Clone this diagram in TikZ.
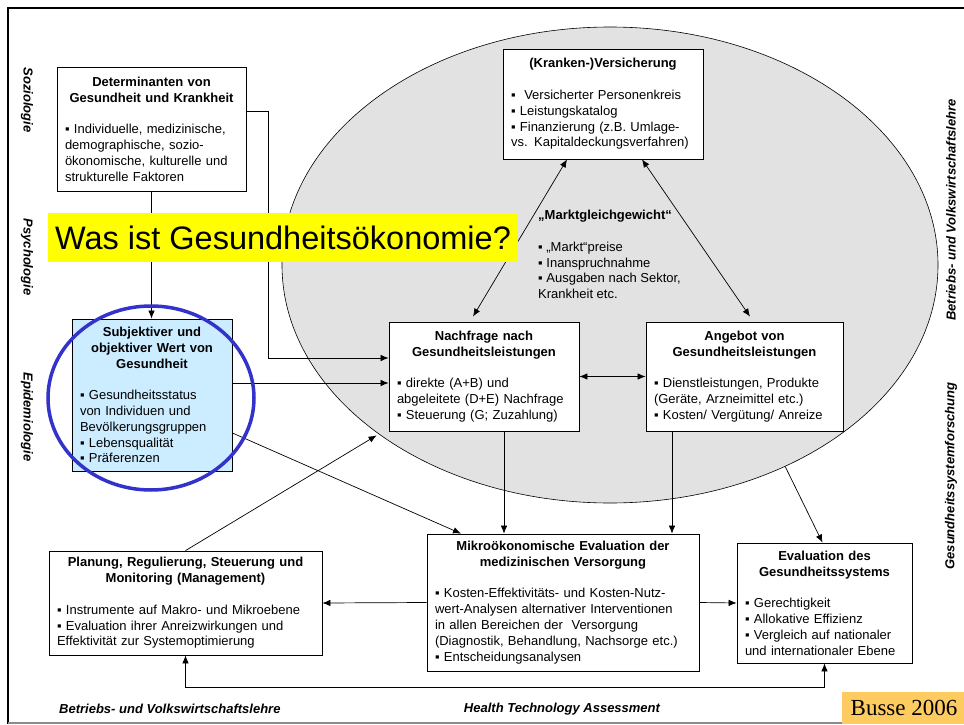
\documentclass[tikz,border=0pt]{standalone}
\usepackage{fontspec}
\setmainfont{Liberation Sans}
\newfontfamily\serifbusse{Liberation Serif}
\usepackage{tikz}
\usetikzlibrary{positioning,arrows.meta,calc,shapes.geometric}
\definecolor{cRing}{HTML}{3333CC}
\definecolor{cSky}{HTML}{CCECFF}
\definecolor{cBanner}{HTML}{FFFF00}
\definecolor{cBusse}{HTML}{FDCB60}
\definecolor{cMarkt}{HTML}{E2E2E2}
\setlength{\parindent}{0pt}
\newcommand{\hd}[1]{{\centering\bfseries #1\par}\vspace{15.8pt}}
\tikzset{
	box/.style={draw, fill=white, line width=0.8pt, inner xsep=8pt, inner ysep=0pt, align=left,
		font=\fontsize{13}{15.8}\selectfont},
	lbl/.style={font=\fontsize{13}{15}\selectfont\bfseries\itshape, inner sep=0pt},
	arr/.style={-{Latex[length=8pt,width=6.5pt]}, line width=0.7pt},
	darr/.style={{Latex[length=8pt,width=6.5pt]}-{Latex[length=8pt,width=6.5pt]}, line width=0.7pt},
}
\begin{document}
\begin{tikzpicture}[x=1pt,y=-1pt]
				\fill[white] (0,0) rectangle (964,725);
				\useasboundingbox (0,0) rectangle (964,725);
				\draw[line width=2.5pt] (966,8) -- (8,8) -- (8,724);
				\draw[black!45, line width=1.2pt] (8,723) -- (966,723);
				\node[ellipse, draw, fill=cMarkt, line width=0.6pt, minimum width=656pt, minimum height=476pt, inner sep=0pt] (markt) at (610,265) {};
				\node[box, minimum width=189pt, minimum height=124pt, text width=173pt] (det) at (151.5,129) {\hd{Determinanten von\\Gesundheit und Krankheit}▪ Individuelle, medizinische,\\demographische, sozio-\\ökonomische, kulturelle und\\strukturelle Faktoren};
				\node[box, fill=cSky, minimum width=160pt, minimum height=152pt, text width=144pt] (subj) at (152,395) {\hd{Subjektiver und\\objektiver Wert von\\Gesundheit}▪ Gesundheitsstatus\\von Individuen und\\Bevölkerungsgruppen\\▪ Lebensqualität\\▪ Präferenzen};
				\node[box, minimum width=200pt, minimum height=110pt, text width=184pt] (vers) at (603,104) {\hd{(Kranken-)Versicherung}▪ \ Versicherter Personenkreis\\▪ Leistungskatalog\\▪ Finanzierung (z.B. Umlage-\\vs. Kapitaldeckungsverfahren)};
				\node[align=left, anchor=north west, inner sep=0pt, font=\fontsize{13}{15.8}\selectfont] (gleich) at (538,210) {\textbf{„Marktgleichgewicht“}\\[15.8pt]▪ „Markt“preise\\▪ Inanspruchnahme\\▪ Ausgaben nach Sektor,\\Krankheit etc.};
				\node[box, minimum width=190pt, minimum height=109pt, text width=174pt] (nach) at (484,376.5) {\hd{Nachfrage nach\\Gesundheitsleistungen}▪ direkte (A+B) und\\abgeleitete (D+E) Nachfrage\\▪ Steuerung (G; Zuzahlung)};
				\node[box, minimum width=197pt, minimum height=109pt, text width=181pt] (ang) at (744.5,376.5) {\hd{Angebot von\\Gesundheitsleistungen}▪ Dienstleistungen, Produkte\\(Geräte, Arzneimittel etc.)\\▪ Kosten/ Vergütung/ Anreize};
				\node[box, minimum width=272pt, minimum height=137pt, text width=256pt] (mikro) at (563,602.5) {\hd{Mikroökonomische Evaluation der\\medizinischen Versorgung}▪ Kosten-Effektivitäts- und Kosten-Nutz-\\wert-Analysen alternativer Interventionen\\in allen Bereichen der \ Versorgung\\(Diagnostik, Behandlung, Nachsorge etc.)\\▪ Entscheidungsanalysen};
				\node[box, minimum width=175pt, minimum height=120pt, text width=159pt] (evsys) at (824.5,603) {\hd{Evaluation des\\Gesundheitssystems}▪ Gerechtigkeit\\▪ Allokative Effizienz\\▪ Vergleich auf nationaler\\und internationaler Ebene};
				\node[box, minimum width=273pt, minimum height=104pt, text width=257pt] (plan) at (185.5,603) {\hd{Planung, Regulierung, Steuerung und\\Monitoring (Management)}▪ Instrumente auf Makro- und Mikroebene\\▪ Evaluation ihrer Anreizwirkungen und\\Effektivität zur Systemoptimierung};
				\node[lbl, rotate=-90] (soz) at (27,100) {Soziologie};
				\node[lbl, rotate=-90] (psy) at (27,257) {Psychologie};
				\node[lbl, rotate=-90] (epi) at (27,417) {Epidemiologie};
				\node[lbl, rotate=90] (bwlR) at (951,210) {Betriebs- und Volkswirtschaftslehre};
				\node[lbl, rotate=90] (gsf) at (951,476) {Gesundheitssystemforschung};
				\node[lbl, anchor=west] (bwlB) at (59,709) {Betriebs- und Volkswirtschaftslehre};
				\node[lbl] (hta) at (562,709) {Health Technology Assessment};
				\draw[arr] (det.south) -- (det.south |- subj.north);
				\draw[arr] ([yshift=18pt]det.east) -- ++(22,0) |- ([yshift=18.5pt]nach.west);
				\draw[arr] ([yshift=12pt]subj.east) -- ([yshift=-6.5pt]nach.west);
				\draw[arr] ([yshift=-38pt]subj.east) -- ([xshift=-102pt]mikro.north);
				\draw[arr] (plan.north) -- ([xshift=-12pt,yshift=-4pt]nach.south west);
				\draw[darr] ([xshift=-36pt]vers.south) -- ([xshift=-11pt,yshift=5pt]nach.north);
				\draw[darr] ([xshift=39pt]vers.south) -- ([xshift=5.5pt,yshift=5pt]ang.north);
				\draw[darr] (nach.east) -- (ang.west);
				\foreach \a/\s in {nach/20pt,ang/-72.5pt} \draw[arr] ([xshift=\s]\a.south) -- ([xshift=\s]\a.south |- mikro.north);
				\draw[arr] (markt.-49) -- ([xshift=-2pt]evsys.north);
				\draw[arr] (mikro.west) -- (plan.east);
				\draw[arr] (mikro.east) -- (evsys.west);
				\draw[darr] (plan.south) -- ++(0,32) -| (evsys.south);
				\draw[cRing, line width=3.5pt] (151,398) ellipse [x radius=103pt, y radius=92pt];
				\node[fill=cBanner, minimum width=470pt, minimum height=49pt, inner sep=0pt, font=\fontsize{32.5}{36}\selectfont] (frage) at (283,237.5) {Was ist Gesundheitsökonomie?};
				\node[fill=cBusse, minimum width=124pt, minimum height=32pt, inner sep=0pt, font=\serifbusse\fontsize{23}{26}\selectfont] (busse) at (904,708) {Busse 2006};
\end{tikzpicture}
\end{document}
